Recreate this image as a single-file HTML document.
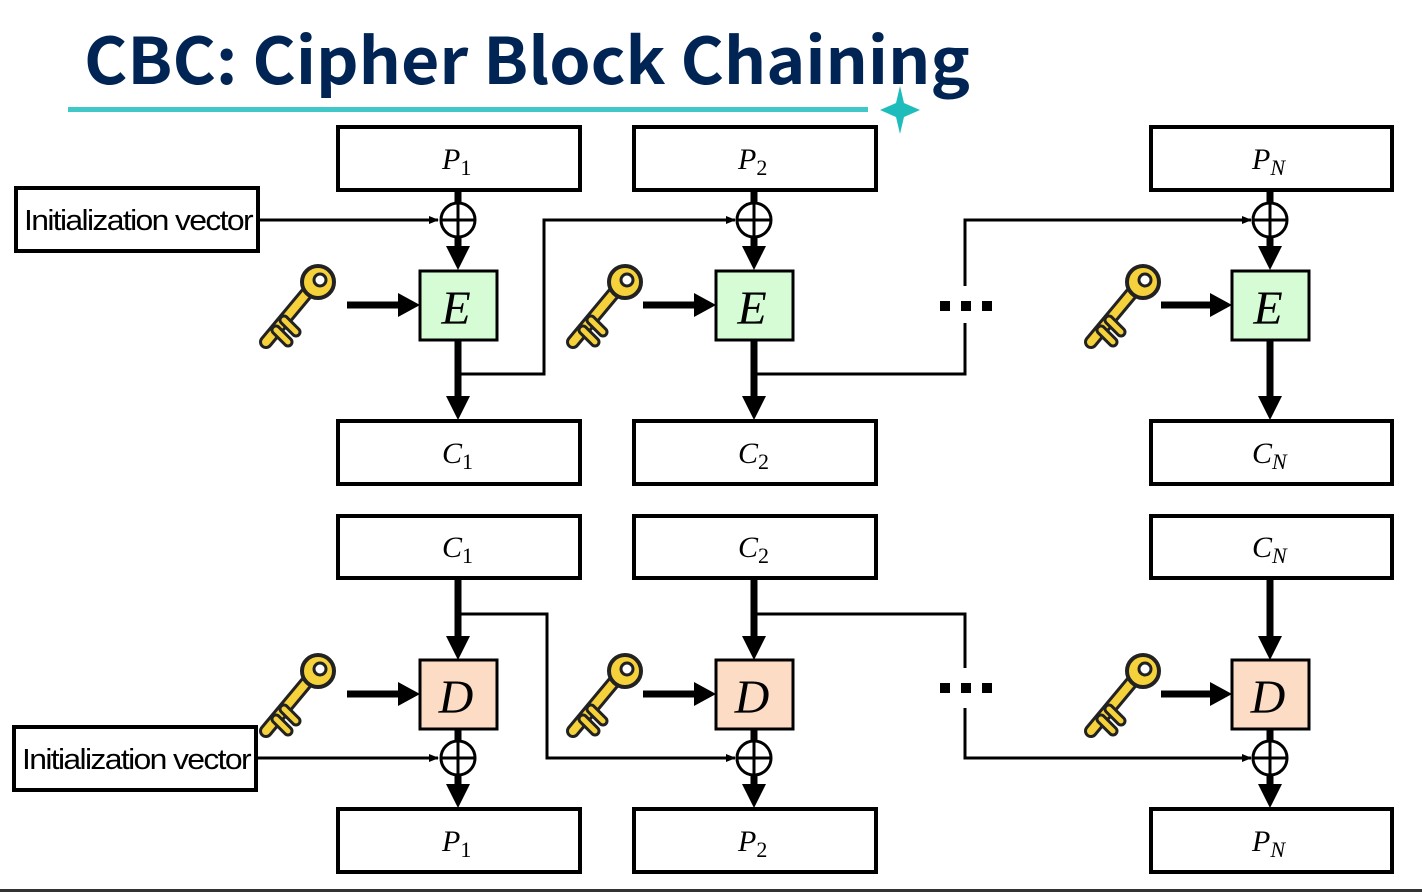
<!DOCTYPE html>
<html><head><meta charset="utf-8"><style>
html,body{margin:0;padding:0;background:#fff;}
svg{display:block;}
.t{font-family:"Liberation Serif",serif;font-style:italic;}
</style></head><body>
<svg width="1422" height="892" viewBox="0 0 1422 892" xmlns="http://www.w3.org/2000/svg">
<defs>
<marker id="ah" markerWidth="10" markerHeight="10" refX="9" refY="5" orient="auto" markerUnits="userSpaceOnUse"><path d="M0,1 L10,5 L0,9z" fill="#000"/></marker>
<g id="key">
<path d="M0,78 L40,30" stroke="#222" stroke-width="14" stroke-linecap="round"/>
<path d="M0,78 L40,30" stroke="#f5d23c" stroke-width="8" stroke-linecap="round"/>
<path d="M10,66 L22,78 M18,56 L30,68" stroke="#222" stroke-width="11" stroke-linecap="round"/>
<path d="M10,66 L22,78 M18,56 L30,68" stroke="#f5d23c" stroke-width="5" stroke-linecap="round"/>
<circle cx="52" cy="18" r="16" fill="#f5d23c" stroke="#222" stroke-width="4"/>
<circle cx="54" cy="16" r="6" fill="#fff" stroke="#222" stroke-width="3"/>
</g>
<g id="xor"><circle r="17" fill="#fff" stroke="#000" stroke-width="3"/><path d="M-17,0H17M0,-17V17" stroke="#000" stroke-width="3"/></g>
</defs>

<text x="84" y="84" font-family="'Noto Sans CJK KR','DejaVu Sans',sans-serif" font-weight="700" font-size="64" fill="#002454" textLength="886" lengthAdjust="spacingAndGlyphs">CBC: Cipher Block Chaining</text>
<rect x="68" y="107" width="800" height="5" fill="#40c8c8"/>
<path d="M900,86 L904,103 L920,110 L904,117 L900,134 L896,117 L880,110 L896,103z" fill="#1fbcbc"/>

<g fill="#fff" stroke="#000" stroke-width="4">
<rect x="338" y="127" width="242" height="63"/><rect x="634" y="127" width="242" height="63"/><rect x="1151" y="127" width="241" height="63"/>
<rect x="338" y="421" width="242" height="63"/><rect x="634" y="421" width="242" height="63"/><rect x="1151" y="421" width="241" height="63"/>
<rect x="338" y="516" width="242" height="62"/><rect x="634" y="516" width="242" height="62"/><rect x="1151" y="516" width="241" height="62"/>
<rect x="338" y="809" width="242" height="63"/><rect x="634" y="809" width="242" height="63"/><rect x="1151" y="809" width="241" height="63"/>
<rect x="16" y="188" width="242" height="63"/><rect x="14" y="727" width="242" height="63"/>
</g>
<g font-family="'Liberation Sans',sans-serif" font-size="29" letter-spacing="-1.5">
<text x="24" y="230" textLength="228" lengthAdjust="spacingAndGlyphs">Initialization vector</text><text x="22" y="769" textLength="228" lengthAdjust="spacingAndGlyphs">Initialization vector</text>
</g>

<g stroke="#000" stroke-width="3" fill="none">
<path d="M258,220H438" marker-end="url(#ah)"/>
<path d="M458,374H544V220H735" marker-end="url(#ah)"/>
<path d="M754,374H965V323M965,286V220H1251" marker-end="url(#ah)"/>
<path d="M256,758H438" marker-end="url(#ah)"/>
<path d="M458,614H547V758H735" marker-end="url(#ah)"/>
<path d="M754,614H965V668M965,708V758H1251" marker-end="url(#ah)"/>
</g>

<g stroke="#000" stroke-width="7">
<path d="M458,190V250M754,190V250M1270,190V250"/>
<path d="M458,340V398M754,340V398M1270,340V398"/>
<path d="M347,305H400M643,305H696M1161,305H1212"/>
<path d="M458,578V638M754,578V638M1270,578V638"/>
<path d="M458,730V788M754,730V788M1270,730V788"/>
<path d="M347,694H400M643,694H696M1161,694H1212"/>
</g>
<g fill="#000">
<path d="M446,246H470L458,270z M742,246H766L754,270z M1258,246H1282L1270,270z"/>
<path d="M446,396H470L458,420z M742,396H766L754,420z M1258,396H1282L1270,420z"/>
<path d="M398,293V317L420,305z M694,293V317L716,305z M1210,293V317L1232,305z"/>
<path d="M446,636H470L458,660z M742,636H766L754,660z M1258,636H1282L1270,660z"/>
<path d="M446,784H470L458,808z M742,784H766L754,808z M1258,784H1282L1270,808z"/>
<path d="M398,682V706L420,694z M694,682V706L716,694z M1210,682V706L1232,694z"/>
<rect x="940" y="301" width="10" height="10"/><rect x="961" y="301" width="10" height="10"/><rect x="982" y="301" width="10" height="10"/>
<rect x="940" y="683" width="10" height="10"/><rect x="961" y="683" width="10" height="10"/><rect x="982" y="683" width="10" height="10"/>
</g>

<use href="#xor" x="458" y="220"/><use href="#xor" x="754" y="220"/><use href="#xor" x="1270" y="220"/>
<use href="#xor" x="458" y="758"/><use href="#xor" x="754" y="758"/><use href="#xor" x="1270" y="758"/>

<g stroke="#000" stroke-width="3">
<rect x="420" y="271" width="77" height="69" fill="#d6fcd6"/><rect x="716" y="271" width="77" height="69" fill="#d6fcd6"/><rect x="1232" y="271" width="77" height="69" fill="#d6fcd6"/>
<rect x="420" y="660" width="77" height="69" fill="#fcdcc4"/><rect x="716" y="660" width="77" height="69" fill="#fcdcc4"/><rect x="1232" y="660" width="77" height="69" fill="#fcdcc4"/>
</g>
<g class="t" font-size="48" text-anchor="middle">
<text x="456" y="324">E</text><text x="752" y="324">E</text><text x="1268" y="324">E</text>
<text x="456" y="713">D</text><text x="752" y="713">D</text><text x="1268" y="713">D</text>
</g>

<g class="t" font-size="30">
<text x="442" y="169">P<tspan font-style="normal" font-size="22" dy="6">1</tspan></text>
<text x="738" y="169">P<tspan font-style="normal" font-size="22" dy="6">2</tspan></text>
<text x="1252" y="169">P<tspan font-size="22" dy="6">N</tspan></text>
<text x="442" y="463">C<tspan font-style="normal" font-size="22" dy="6">1</tspan></text>
<text x="738" y="463">C<tspan font-style="normal" font-size="22" dy="6">2</tspan></text>
<text x="1252" y="463">C<tspan font-size="22" dy="6">N</tspan></text>
<text x="442" y="557">C<tspan font-style="normal" font-size="22" dy="6">1</tspan></text>
<text x="738" y="557">C<tspan font-style="normal" font-size="22" dy="6">2</tspan></text>
<text x="1252" y="557">C<tspan font-size="22" dy="6">N</tspan></text>
<text x="442" y="851">P<tspan font-style="normal" font-size="22" dy="6">1</tspan></text>
<text x="738" y="851">P<tspan font-style="normal" font-size="22" dy="6">2</tspan></text>
<text x="1252" y="851">P<tspan font-size="22" dy="6">N</tspan></text>
</g>

<use href="#key" x="266" y="264"/><use href="#key" x="573" y="264"/><use href="#key" x="1091" y="264"/>
<use href="#key" x="266" y="653"/><use href="#key" x="573" y="653"/><use href="#key" x="1091" y="653"/>
<rect x="0" y="889" width="1422" height="3" fill="#333"/>
</svg>
</body></html>
